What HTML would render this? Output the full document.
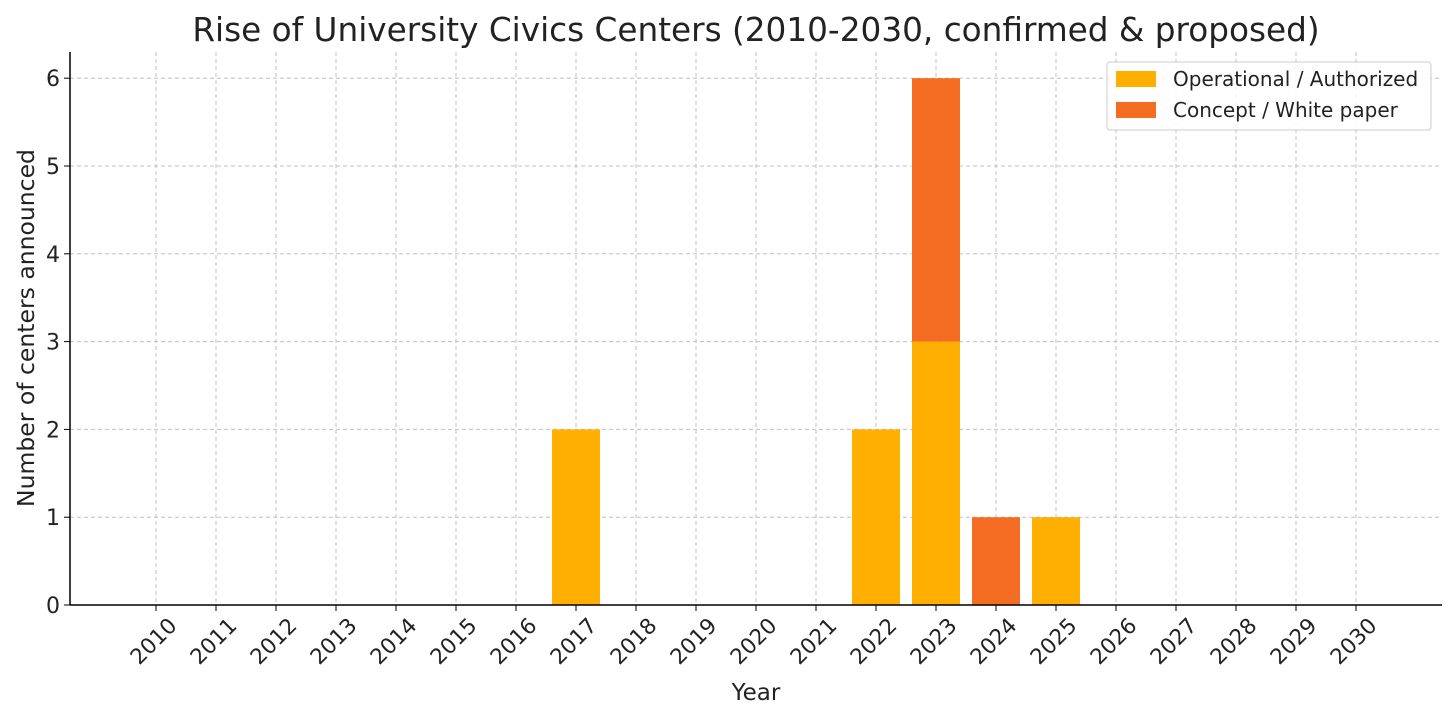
<!DOCTYPE html>
<html><head><meta charset="utf-8"><style>
body{margin:0;background:#fff;width:1456px;height:721px;overflow:hidden}
svg{font-family:"DejaVu Sans","Liberation Sans",sans-serif}
</style></head><body>
<svg id="chart" width="1456" height="721" viewBox="0 0 1456 721" xmlns="http://www.w3.org/2000/svg">
<text x="756" y="41" text-anchor="middle" font-size="32.7" fill="#222">Rise of University Civics Centers (2010-2030, confirmed &amp; proposed)</text>
<g id="grid"></g><g id="bars"></g><g id="axes"></g>
<text x="756" y="700" text-anchor="middle" font-size="23" fill="#222">Year</text>
<text transform="translate(34,328) rotate(-90)" text-anchor="middle" font-size="23.5" fill="#222">Number of centers announced</text>
<g>
<rect x="1107" y="62" width="324" height="68" rx="3" fill="#fff" fill-opacity="0.85" stroke="#ccc"/>
<rect x="1116" y="71" width="40" height="16" fill="#FFAF00"/>
<text x="1173" y="86" font-size="20" fill="#222">Operational / Authorized</text>
<rect x="1116" y="102" width="40" height="16" fill="#F36C21"/>
<text x="1173" y="117" font-size="20" fill="#222">Concept / White paper</text>
</g>
</svg>
<script>
const years=[2010,2011,2012,2013,2014,2015,2016,2017,2018,2019,2020,2021,2022,2023,2024,2025,2026,2027,2028,2029,2030];
const operational=[0,0,0,0,0,0,0,2,0,0,0,0,2,3,0,1,0,0,0,0,0];
const concept=[0,0,0,0,0,0,0,0,0,0,0,0,0,3,1,0,0,0,0,0,0];
const yTicks=[0,1,2,3,4,5,6];
const NS="http://www.w3.org/2000/svg";
const L=70,R=1442,T=52,B=605;
const x=i=>156+i*60;
const y=v=>605-v*87.8;
const bw=48;
function mk(tag,attrs,parent,txt){const e=document.createElementNS(NS,tag);for(const k in attrs)e.setAttribute(k,attrs[k]);if(txt!==undefined)e.textContent=txt;parent.appendChild(e);return e;}
const grid=document.getElementById('grid'),bars=document.getElementById('bars'),axes=document.getElementById('axes');
years.forEach((yr,i)=>{
  const g=mk('line',{x1:x(i),x2:x(i),y1:T,y2:B,stroke:'#c0c0c0','stroke-dasharray':'4,3','stroke-width':1},grid);
  
  
  const tk=mk('line',{x1:x(i),x2:x(i),y1:B,y2:B+6,stroke:'#000'},axes);
  
  
  const t=mk('text',{transform:`translate(${x(i)+22},${B+22}) rotate(-45)`,'text-anchor':'end','font-size':21.5,fill:'#222'},axes,String(yr));
  
  
  if(operational[i]>0){
    const r=mk('rect',{x:x(i)-bw/2,y:y(operational[i]),width:bw,height:y(0)-y(operational[i]),fill:'#FFAF00'},bars);
    
    
  }
  if(concept[i]>0){
    const r=mk('rect',{x:x(i)-bw/2,y:y(operational[i]+concept[i]),width:bw,height:y(operational[i])-y(operational[i]+concept[i]),fill:'#F36C21'},bars);
    
    
  }
});
yTicks.forEach(v=>{
  if(v>0){const g=mk('line',{x1:L,x2:R,y1:y(v),y2:y(v),stroke:'#c0c0c0','stroke-dasharray':'4,3'},grid);
  
  }
  const tk=mk('line',{x1:L-6,x2:L,y1:y(v),y2:y(v),stroke:'#000'},axes);
  
  
  const t=mk('text',{x:L-10,y:y(v)+8,'text-anchor':'end','font-size':22,fill:'#222'},axes,String(v));
  
  
});
const xa=mk('line',{x1:L,x2:R,y1:B,y2:B,stroke:'#000','stroke-width':1.5},axes);


const ya=mk('line',{x1:L,x2:L,y1:T,y2:B,stroke:'#000','stroke-width':1.5},axes);


</script>
</body></html>
